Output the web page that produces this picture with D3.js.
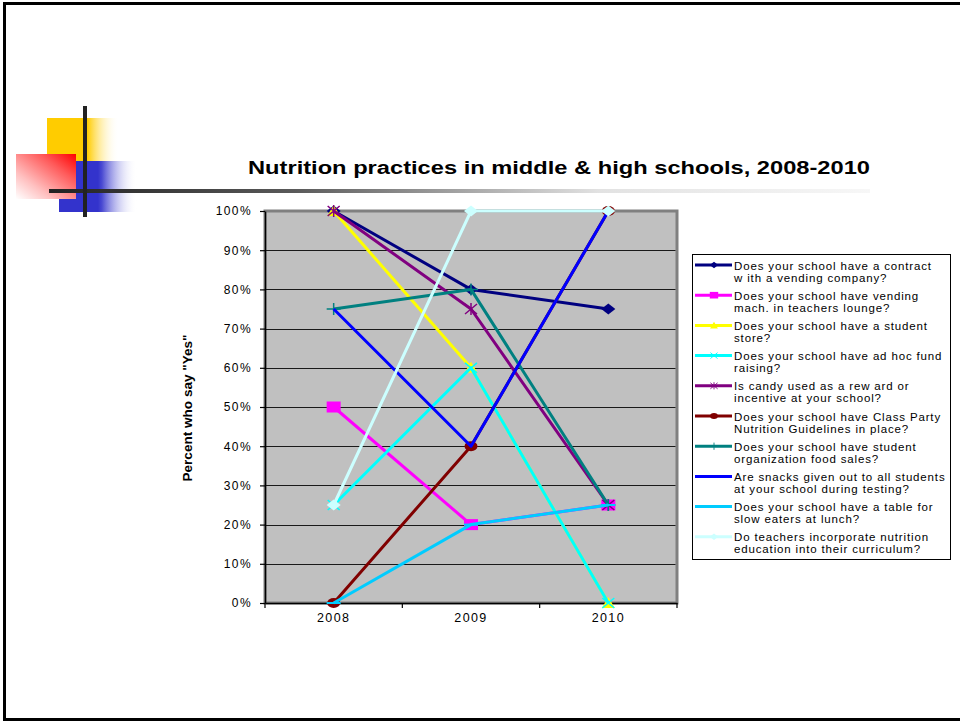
<!DOCTYPE html>
<html>
<head>
<meta charset="utf-8">
<script src="https://cdn.jsdelivr.net/npm/d3@7"></script>
<style>
  html, body { margin: 0; padding: 0; background: #fff; }
  svg { display: block; font-family: Arial, "Liberation Sans", sans-serif; }
</style>
</head>
<body>
<svg id="chart" width="960" height="721"></svg>
<script>
// ---------- data ----------
const years = ["2008", "2009", "2010"];
const yTicks = [0, 10, 20, 30, 40, 50, 60, 70, 80, 90, 100];
const titleText = "Nutrition practices in middle & high schools, 2008-2010";
const yAxisTitle = "Percent who say \"Yes\"";

const seriesLabels = [
  ["Does your school have a contract", "w ith a vending company?"],
  ["Does your school have vending", "mach. in teachers lounge?"],
  ["Does your school have a student", "store?"],
  ["Does your school have ad hoc fund", "raising?"],
  ["Is candy used as a rew ard or", "incentive at your school?"],
  ["Does your school have Class Party", "Nutrition Guidelines in place?"],
  ["Does your school have student", "organization food sales?"],
  ["Are snacks given out to all students", "at your school during testing?"],
  ["Does your school have a table for", "slow  eaters at lunch?"],
  ["Do teachers incorporate nutrition", "education into their curriculum?"]
];
const vendingContract   = [100, 80, 75];
const vendingLounge     = [50, 20, 25];
const studentStore      = [100, 60, 0];
const adHocFundRaising  = [25, 60, 0];
const candyReward       = [100, 75, 25];
const classPartyGuide   = [0, 40, 100];
const studentOrgSales   = [75, 80, 25];
const snacksTesting     = [75, 40, 100];
const slowEatersTable   = [0, 20, 25];
const nutritionEdu      = [25, 100, 100];
const seriesValues = [vendingContract, vendingLounge, studentStore, adHocFundRaising,
  candyReward, classPartyGuide, studentOrgSales, snacksTesting, slowEatersTable, nutritionEdu];

// ---------- styles ----------
const colors = ["#000080", "#FF00FF", "#FFFF00", "#00FFFF", "#800080",
                "#800000", "#008080", "#0000FF", "#00CCFF", "#CCFFFF"];
const markers = ["diamond", "square", "triangle", "x", "star",
                 "circle", "plus", "none", "dash", "diamond"];

const svg = d3.select("#chart");
const defs = svg.append("defs");

// ---------- slide decoration ----------
function lin(id, x1, y1, x2, y2, stops) {
  const g = defs.append("linearGradient").attr("id", id)
    .attr("x1", x1).attr("y1", y1).attr("x2", x2).attr("y2", y2);
  stops.forEach(s => g.append("stop").attr("offset", s[0]).attr("stop-color", s[1]).attr("stop-opacity", s[2] == null ? 1 : s[2]));
}
lin("gYel", 0, 0, 1, 0, [[0, "#FFCC00"], [0.56, "#FFCC00"], [1, "#FFFFFF", 0]]);
lin("gBlue", 0, 0, 1, 0, [[0, "#3333CC"], [0.5, "#3333CC"], [0.55, "#4a4ad2"], [1, "#FFFFFF", 0]]);
lin("gRed", 1, 0, 0, 1, [[0, "#FF0000"], [0.3, "#FF5a5a"], [0.7, "#FFc0c0"], [1, "#FFFFFF"]]);
lin("gLine", 0, 0, 1, 0, [[0, "#222"], [0.3, "#5a5a5a"], [0.67, "#e2e2e2"], [1, "#f7f7f7"]]);

// slide border
svg.append("line").attr("x1", 3).attr("x2", 960).attr("y1", 3.5).attr("y2", 3.5).attr("stroke", "#000").attr("stroke-width", 3);
svg.append("line").attr("x1", 4.5).attr("x2", 4.5).attr("y1", 2).attr("y2", 721).attr("stroke", "#000").attr("stroke-width", 3);
svg.append("line").attr("x1", 3).attr("x2", 960).attr("y1", 719.5).attr("y2", 719.5).attr("stroke", "#000").attr("stroke-width", 3);

svg.append("rect").attr("x", 47).attr("y", 118).attr("width", 72).attr("height", 44).attr("fill", "url(#gYel)");
svg.append("rect").attr("x", 59).attr("y", 161).attr("width", 78).attr("height", 51).attr("fill", "url(#gBlue)");
svg.append("rect").attr("x", 16).attr("y", 154).attr("width", 60).attr("height", 45).attr("fill", "url(#gRed)");
svg.append("rect").attr("x", 49).attr("y", 189).attr("width", 821).attr("height", 4).attr("fill", "url(#gLine)");
svg.append("rect").attr("x", 83).attr("y", 106).attr("width", 4).attr("height", 111).attr("fill", "#222");

// ---------- title ----------
svg.append("text").attr("x", 559).attr("y", 174).attr("text-anchor", "middle")
  .attr("font-size", 18).attr("font-weight", "bold").attr("fill", "#000")
  .attr("textLength", 622).attr("lengthAdjust", "spacingAndGlyphs")
  .text(titleText);

// ---------- scales ----------
const plot = { left: 265, right: 677, top: 211, bottom: 603 };
const x = d3.scaleBand().domain(years).range([plot.left, plot.right]);
const cx = d => x(d) + x.bandwidth() / 2;
const y = d3.scaleLinear().domain([0, 100]).range([plot.bottom, plot.top]);

// plot area
svg.append("rect").attr("x", plot.left).attr("y", plot.top)
  .attr("width", plot.right - plot.left).attr("height", plot.bottom - plot.top)
  .attr("fill", "#C0C0C0").attr("stroke", "#808080").attr("stroke-width", 3);

// gridlines
svg.append("g").selectAll("line").data(yTicks.filter(v => v > 0 && v < 100)).join("line")
  .attr("x1", plot.left).attr("x2", plot.right - 1.5)
  .attr("y1", d => Math.round(y(d)) + 0.5).attr("y2", d => Math.round(y(d)) + 0.5)
  .attr("stroke", "#1a1a1a").attr("stroke-width", 1.2);

// y axis
const yAxis = svg.append("g").attr("transform", `translate(${plot.left},0)`)
  .call(d3.axisLeft(y).tickValues(yTicks).tickFormat(d => d + "%").tickSize(5).tickPadding(8).tickSizeOuter(0));
yAxis.select(".domain").attr("stroke", "#000").attr("stroke-width", 1.5);
yAxis.selectAll(".tick line").attr("stroke", "#000").attr("stroke-width", 1.2);
yAxis.selectAll(".tick text").attr("font-size", 12).attr("letter-spacing", 1.4)
  .attr("font-family", "Arial, 'Liberation Sans', sans-serif").attr("fill", "#000");

// x axis
const xAxis = svg.append("g").attr("transform", `translate(0,${plot.bottom})`)
  .call(d3.axisBottom(x).tickSize(0).tickPadding(10).tickSizeOuter(0));
xAxis.select(".domain").attr("stroke", "#000").attr("stroke-width", 1.5);
xAxis.selectAll(".tick text").attr("font-size", 12.5).attr("letter-spacing", 1.4)
  .attr("font-family", "Arial, 'Liberation Sans', sans-serif").attr("fill", "#000");
const xTickPos = years.map(d => x(d)).concat([x(years[years.length - 1]) + x.bandwidth()]);
xAxis.selectAll("line.cat").data(xTickPos).join("line").attr("class", "cat")
  .attr("x1", d => d).attr("x2", d => d).attr("y1", 0).attr("y2", 5)
  .attr("stroke", "#000").attr("stroke-width", 1.2);

// y axis title
svg.append("text").attr("transform", "translate(192,408) rotate(-90)")
  .attr("text-anchor", "middle").attr("font-size", 12.5).attr("font-weight", "bold")
  .attr("textLength", 147).attr("lengthAdjust", "spacingAndGlyphs")
  .text(yAxisTitle);

// ---------- markers ----------
function drawMarker(g, type, px, py, color) {
  const w = 7, h = 5.5;
  switch (type) {
    case "diamond":
      g.append("path").attr("d", `M${px - w},${py}L${px},${py - h}L${px + w},${py}L${px},${py + h}Z`)
        .attr("fill", color); break;
    case "square":
      g.append("rect").attr("x", px - 7).attr("y", py - 5.5).attr("width", 14).attr("height", 11).attr("fill", color); break;
    case "triangle":
      g.append("path").attr("d", `M${px},${py - 6}L${px + 6.5},${py + 5}L${px - 6.5},${py + 5}Z`).attr("fill", color); break;
    case "circle":
      g.append("ellipse").attr("cx", px).attr("cy", py).attr("rx", 6.5).attr("ry", 5).attr("fill", color); break;
    case "x":
      g.append("path").attr("d", `M${px - 6},${py - 5}L${px + 6},${py + 5}M${px - 6},${py + 5}L${px + 6},${py - 5}`)
        .attr("stroke", color).attr("stroke-width", 1.5).attr("fill", "none"); break;
    case "star":
      g.append("path").attr("d", `M${px - 6},${py - 5}L${px + 6},${py + 5}M${px - 6},${py + 5}L${px + 6},${py - 5}M${px},${py - 6}L${px},${py + 6}`)
        .attr("stroke", color).attr("stroke-width", 1.5).attr("fill", "none"); break;
    case "plus":
      g.append("path").attr("d", `M${px - 7},${py}L${px + 7},${py}M${px},${py - 6}L${px},${py + 6}`)
        .attr("stroke", color).attr("stroke-width", 1.5).attr("fill", "none"); break;
    case "dash":
      g.append("path").attr("d", `M${px - 7},${py}L${px + 7},${py}`)
        .attr("stroke", color).attr("stroke-width", 2).attr("fill", "none"); break;
  }
}

// ---------- series ----------
const line = d3.line().x(d => cx(d.year)).y(d => y(d.value));
const seriesG = svg.append("g");
seriesValues.forEach((vals, i) => {
  const pts = vals.map((v, j) => ({ year: years[j], value: v }));
  const g = seriesG.append("g");
  g.append("path").datum(pts).attr("d", line).attr("fill", "none")
    .attr("stroke", colors[i]).attr("stroke-width", 3).attr("stroke-linejoin", "round");
  pts.forEach(p => drawMarker(g, markers[i], cx(p.year), y(p.value), colors[i]));
});

// ---------- legend ----------
const lg = svg.append("g");
lg.append("rect").attr("x", 692.5).attr("y", 254.5).attr("width", 258).attr("height", 305)
  .attr("fill", "#fff").attr("stroke", "#000").attr("stroke-width", 1);
seriesLabels.forEach((lines, i) => {
  const ly = 265 + i * 30.2;
  const g = lg.append("g");
  g.append("line").attr("x1", 695).attr("x2", 732).attr("y1", ly).attr("y2", ly)
    .attr("stroke", colors[i]).attr("stroke-width", 3);
  const mk = markers[i];
  const s = g.append("g").attr("transform", `translate(714,${ly}) scale(0.6) translate(-714,${-ly})`);
  drawMarker(s, mk, 714, ly, colors[i]);
  lines.forEach((t, k) => {
    g.append("text").attr("x", 734).attr("y", ly + 4.5 + k * 12)
      .attr("font-size", 11.5).attr("letter-spacing", 0.85).attr("fill", "#000").text(t);
  });
});
</script>
</body>
</html>
